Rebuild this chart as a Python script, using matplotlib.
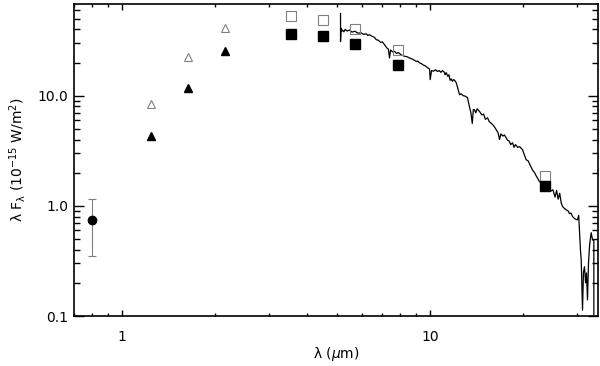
import matplotlib
matplotlib.use("Agg")
import matplotlib.pyplot as plt
from matplotlib.ticker import FixedLocator, FixedFormatter, LogLocator, NullFormatter

# ---- data ----
# optical point with error bar
opt_wave = [0.80]
opt_flux = [0.75]
opt_err_lo = [0.40]
opt_err_hi = [0.40]

# 2MASS J, H, K
nir_wave = [1.24, 1.64, 2.16]
nir_open = [8.4, 22.5, 41.0]
nir_filled = [4.33, 11.8, 25.6]

# IRAC + MIPS 24
mir_wave = [3.55, 4.48, 5.71, 7.89, 23.6]
mir_open = [52.6, 48.7, 40.6, 25.8, 1.87]
mir_filled = [36.4, 35.1, 29.7, 19.1, 1.53]

# IRS spectrum
spec_wave = [5.12, 5.12, 5.14, 5.17, 5.20, 5.25, 5.30, 5.38, 5.47, 5.58, 5.70, 5.82,
             5.97, 6.08, 6.20, 6.28, 6.36, 6.43, 6.50, 6.60, 6.68, 6.80, 6.90, 7.00,
             7.11, 7.18, 7.25, 7.32, 7.38, 7.44, 7.55, 7.66, 7.78, 7.89, 8.05, 8.26,
             8.40, 8.57, 8.75, 9.01, 9.12, 9.23, 9.38, 9.50, 9.65, 9.82, 9.95, 10.0,
             10.1, 10.25, 10.4, 10.55, 10.7, 10.83, 10.96, 11.1, 11.18, 11.27, 11.4,
             11.5, 11.6, 11.7, 11.81, 11.9, 12.0, 12.15, 12.3, 12.45, 12.6, 12.8,
             13.0, 13.21, 13.41, 13.55, 13.69, 13.8, 13.92, 14.05, 14.2, 14.45, 14.7,
             14.9, 15.1, 15.34, 15.55, 15.8, 16.1, 16.37, 16.6, 16.78, 16.95, 17.2,
             17.4, 17.64, 17.8, 18.0, 18.25, 18.49, 18.7, 18.9, 19.2, 19.5, 19.93,
             20.2, 20.48, 20.8, 21.0, 21.46, 21.8, 22.0, 22.3, 22.61, 23.0, 23.6,
             24.0, 24.3, 24.6, 25.0, 25.4, 25.7, 26.0, 26.3, 26.6, 26.85, 27.2, 27.61,
             28.0, 28.3, 28.6, 28.93, 29.5, 30.03, 30.3, 30.49, 30.7, 30.88, 31.18,
             31.4, 31.64, 31.9, 32.12, 32.36, 32.6, 32.85, 33.05, 33.27, 33.6, 33.93,
             33.93]
spec_flux = [55.7, 31.0, 41.0, 38.5, 39.5, 38.0, 40.0, 38.6, 39.5, 37.8, 38.5, 37.0,
             37.2, 36.0, 36.5, 35.2, 35.8, 35.0, 34.5, 33.8, 32.3, 31.8, 30.5, 30.8,
             29.1, 28.0, 27.0, 26.5, 22.0, 26.0, 25.0, 25.3, 24.2, 24.6, 23.5, 22.8,
             22.6, 22.0, 21.5, 20.5, 20.6, 19.9, 19.5, 19.0, 18.6, 17.9, 17.5, 14.0,
             16.9, 16.7, 17.2, 16.6, 16.9, 16.3, 16.9, 16.4, 15.5, 16.2, 15.0,
             15.5, 13.8, 14.2, 13.5, 14.0, 13.8, 13.1, 11.5, 10.2, 10.4, 10.0,
             9.9, 9.6, 7.9, 7.0, 5.6, 7.5, 7.46, 7.0, 7.6, 7.2, 6.7,
             6.8, 6.1, 6.3, 5.8, 5.6, 5.3, 4.9, 4.6, 4.0, 4.5, 4.3,
             4.4, 4.15, 3.95, 3.9, 3.6, 3.74, 3.4, 3.6, 3.4, 3.45, 3.23,
             2.9, 2.62, 2.55, 2.4, 2.12, 2.0, 1.9, 1.78, 1.66, 1.60, 1.55,
             1.50, 1.45, 1.36, 1.40, 1.20, 1.38, 1.15, 1.30, 1.06, 0.99, 0.95, 0.92,
             0.90, 0.85, 0.86, 0.80, 0.76, 0.746, 0.82, 0.57, 0.40, 0.32, 0.113,
             0.25, 0.28, 0.20, 0.246, 0.14, 0.30, 0.43, 0.50, 0.57, 0.49, 0.49,
             0.10]

x_major = [1, 10]
x_major_labels = ["1", "10"]
y_major = [0.1, 1.0, 10.0]
y_major_labels = ["0.1", "1.0", "10.0"]

# ---- figure ----
plt.rcParams['font.family'] = ['DejaVu Sans']
plt.rcParams['mathtext.fontset'] = 'dejavusans'
fig = plt.figure(figsize=(6.0, 3.66), dpi=100)
ax = fig.add_axes([74/600, 1-316/366, 524/600, 312/366])
ax.set_xscale('log')
ax.set_yscale('log')
ax.set_xlim(0.7, 35)
ax.set_ylim(0.1, 68)

grey = '#808080'
ax.plot(spec_wave, spec_flux, color='black', lw=0.9, zorder=3, clip_on=True)
ax.errorbar(opt_wave, opt_flux, yerr=[opt_err_lo, opt_err_hi], fmt='o', color='black',
            ms=6, ecolor=grey, elinewidth=0.8, capsize=3, capthick=0.8, zorder=4)
ax.plot(nir_wave, nir_open, linestyle='none', marker='^', ms=6, mfc='white', mec=grey, mew=0.8, zorder=4)
ax.plot(nir_wave, nir_filled, linestyle='none', marker='^', ms=5.5, mfc='black', mec='black', zorder=4)
ax.plot(mir_wave, mir_open, linestyle='none', marker='s', ms=6.8, mfc='none', mec=grey, mew=0.8, zorder=4)
ax.plot(mir_wave, mir_filled, linestyle='none', marker='s', ms=6.5, mfc='black', mec='black', zorder=5)

ax.xaxis.set_major_locator(FixedLocator(x_major))
ax.xaxis.set_major_formatter(FixedFormatter(x_major_labels))
ax.xaxis.set_minor_locator(LogLocator(base=10, subs=range(2, 10)))
ax.xaxis.set_minor_formatter(NullFormatter())
ax.yaxis.set_major_locator(FixedLocator(y_major))
ax.yaxis.set_major_formatter(FixedFormatter(y_major_labels))
ax.yaxis.set_minor_locator(LogLocator(base=10, subs=range(2, 10)))
ax.yaxis.set_minor_formatter(NullFormatter())

ax.tick_params(axis='x', which='major', direction='in', length=4, width=1, top=True, pad=10, labelsize=10, colors='black')
ax.tick_params(axis='x', which='minor', direction='in', length=2.2, width=1, top=True)
ax.tick_params(axis='y', which='major', direction='in', length=7.5, width=1, right=True, pad=4, labelsize=10)
ax.tick_params(axis='y', which='minor', direction='in', length=4.3, width=1, right=True)
for s in ax.spines.values():
    s.set_linewidth(1.2)

ax.set_xlabel(r'λ ($\mu$m)', fontsize=10, labelpad=1)
ax.set_ylabel(r'λ F$_{\mathregular{λ}}$ (10$^{\mathregular{-15}}$ W/m$^{\mathregular{2}}$)', fontsize=10, labelpad=7)

fig.savefig('out.png', dpi=100)
